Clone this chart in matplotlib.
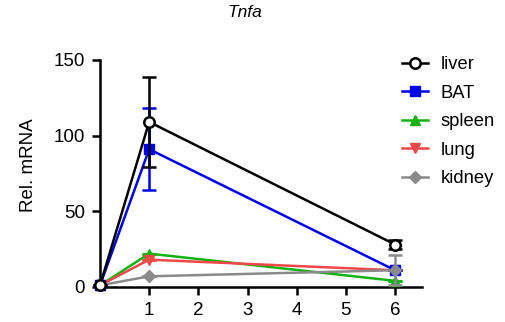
import matplotlib
matplotlib.use("Agg")
import matplotlib.pyplot as plt
from matplotlib.lines import Line2D

plt.rcParams['font.family'] = ['Liberation Sans', 'DejaVu Sans']

days = [0, 1, 6]
xticks = [1, 2, 3, 4, 5, 6]
yticks = [0, 50, 100, 150]

series_names = ["liver", "BAT", "spleen", "lung", "kidney"]
liver = [1, 109, 28]
liver_err = [0, 30, 3]
bat = [1, 91, 11]
bat_err = [0, 27, 0]
spleen = [1, 22, 4]
spleen_err = [0, 0, 0]
lung = [1, 18, 11]
lung_err = [0, 0, 0]
kidney = [1, 7, 11]
kidney_err = [0, 0, 10]

styles = {
    "liver": dict(color="black", marker="o", mfc="white", ms=7.5, mew=1.8),
    "BAT": dict(color="#0000F0", marker="s", ms=7.5),
    "spleen": dict(color="#12B312", marker="^", ms=7.5),
    "lung": dict(color="#F04848", marker="v", ms=7.5),
    "kidney": dict(color="#8A8A8A", marker="D", ms=6.5),
}
data = {"liver": (liver, liver_err), "BAT": (bat, bat_err),
        "spleen": (spleen, spleen_err), "lung": (lung, lung_err),
        "kidney": (kidney, kidney_err)}
zorders = {"liver": 6, "BAT": 4, "spleen": 3, "lung": 3.5, "kidney": 5}

fig = plt.figure(figsize=(5.05, 3.22), dpi=100)
ax = fig.add_axes([0.198, 0.109, 0.638, 0.705])

handles = []
for name in series_names:
    vals, err = data[name]
    st = styles[name]
    h = ax.errorbar(days, vals, yerr=err, lw=1.8, capsize=5, capthick=1.8,
                    elinewidth=1.8, clip_on=False, zorder=zorders[name], **st)
    for art in h.lines[1] + h.lines[2]:
        art.set_clip_on(False)
    handles.append(Line2D([], [], lw=1.8, **st))

ax.set_xlim(0, 6.55)
ax.set_ylim(0, 150)
ax.set_xticks(xticks)
ax.set_yticks(yticks)
for s in ["top", "right"]:
    ax.spines[s].set_visible(False)
for s in ["left", "bottom"]:
    ax.spines[s].set_linewidth(1.8)
ax.tick_params(width=1.8, length=6, labelsize=13.5, direction="out", pad=5)
ax.set_ylabel("Rel. mRNA", fontsize=13.5)
ax.yaxis.set_label_coords(-0.195, 0.537)

fig.text(0.485, 0.962, "Tnfa", fontsize=12.5, style="italic", ha="center", va="center")

leg = fig.legend(handles, series_names, loc="upper left",
                 bbox_to_anchor=(0.796, 0.826), frameon=False, fontsize=13.2,
                 borderpad=0, borderaxespad=0,
                 handlelength=1.4, labelspacing=0.63, handletextpad=0.7)

fig.savefig("out.png", dpi=100)
